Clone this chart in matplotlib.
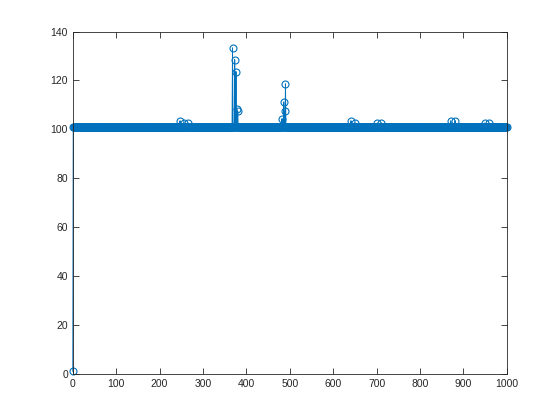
import numpy as np
import matplotlib
matplotlib.use("Agg")
import matplotlib.pyplot as plt

# sample index 0..1000, signal sits near 100.8 apart from a few spikes
n_samples = 1001
base_level = 100.8
first_value = 1.0
spike_idx = [247, 256, 265, 368, 373, 376, 378, 380, 482, 486, 488, 490,
             641, 651, 702, 711, 871, 881, 949, 959]
spike_val = [103.5, 102.6, 102.6, 133.3, 128.5, 123.6, 108.3, 107.4, 104.4, 111.2, 107.5, 118.6,
             103.5, 102.6, 102.6, 102.6, 103.5, 103.5, 102.6, 102.6]

x = np.arange(n_samples)
y = np.full(n_samples, base_level)
y[0] = first_value
y[spike_idx] = spike_val

col = "#0072BD"
plt.rcParams["font.family"] = ["Liberation Sans", "DejaVu Sans"]

fig = plt.figure(figsize=(5.6, 4.2), dpi=100)
ax = fig.add_axes([0.13, 0.11, 0.775, 0.815])
ax.plot(x, y, color=col, lw=0.7, marker="o", ms=5, mfc="none", mec=col, mew=0.8, clip_on=False)

ax.set_xlim(0, 1000)
ax.set_ylim(0, 140)
ax.set_xticks(range(0, 1001, 100))
ax.set_yticks(range(0, 141, 20))
ax.tick_params(direction="in", top=True, right=True, labelsize=7.5, colors="#262626", length=4, width=0.6)
for s in ax.spines.values():
    s.set_color("#262626")
    s.set_linewidth(0.6)

fig.savefig("out.png", dpi=100)
